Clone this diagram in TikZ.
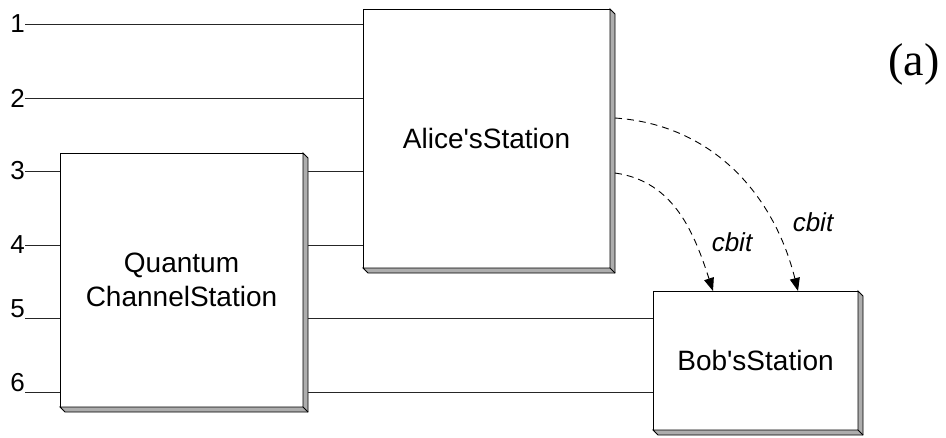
\documentclass[tikz,border=0pt]{standalone}
\usepackage{fontspec}
\setmainfont{Liberation Serif}
\setsansfont[Ligatures=TeXOff]{Liberation Sans}
\usetikzlibrary{positioning, arrows.meta, calc}

\begin{document}
\begin{tikzpicture}[
      x=1pt, y=-1pt,
      station/.style={rectangle, draw, line width=0.9pt, fill=white, outer sep=0pt,
        align=center, font=\sffamily\fontsize{28}{34}\selectfont},
      bevel/.style={draw, line width=0.9pt, fill=black!32},
      wire/.style={line width=0.9pt, draw=black!85},
      num/.style={font=\sffamily\fontsize{26}{28}\selectfont, inner sep=0pt},
      cbitedge/.style={line width=0.9pt, dash pattern=on 7pt off 5pt,
        -{Triangle[length=13pt, width=10pt]}},
      lab/.style={font=\sffamily\itshape\fontsize{26}{30}\selectfont, inner sep=0pt}
    ]
    \useasboundingbox (0,0) rectangle (946,437);

    % stations
    \node[station, minimum width=243pt, minimum height=254pt] (qc) at (181.5,280) {Quantum\\ChannelStation};
    \node[station, minimum width=247pt, minimum height=259pt] (alice) at (486.5,138.5) {Alice'sStation};
    \node[station, minimum width=205pt, minimum height=139pt] (bob) at (755.5,360.5) {Bob'sStation};

    \foreach \b in {qc, alice, bob} {
      \path[bevel] (\b.north east) -- ++(5,5) -- ($(\b.south east)+(5,5)$)
        -- ($(\b.south west)+(5,5)$) -- (\b.south west) -- (\b.south east) -- cycle;
      \draw[line width=0.9pt] (\b.south east) -- ++(5,5);
    }

    % qubit wires
    \coordinate (w1) at (25,24);
    \coordinate (w2) at (25,98);
    \coordinate (w3) at (25,171);
    \coordinate (w4) at (25,245);
    \coordinate (w5) at (25,318);
    \coordinate (w6) at (25,392);

    \node[num, anchor=east] at (w1) {1};
    \node[num, anchor=east] at (w2) {2};
    \node[num, anchor=east] at (w3) {3};
    \node[num, anchor=east] at (w4) {4};
    \node[num, anchor=south east] at (w5) {5};
    \node[num, anchor=south east] at (w6) {6};

    \draw[wire] (w1) -- (w1 -| alice.west);
    \draw[wire] (w2) -- (w2 -| alice.west);
    \foreach \w in {w3, w4} {
      \draw[wire] (\w) -- (\w -| qc.west);
      \draw[wire] ([xshift=5pt]\w -| qc.east) -- (\w -| alice.west);
    }
    \foreach \w in {w5, w6} {
      \draw[wire] (\w) -- (\w -| qc.west);
      \draw[wire] ([xshift=5pt]\w -| qc.east) -- (\w -| bob.west);
    }

    % classical bits
    \coordinate (c1) at (615,118);
    \coordinate (c2) at (615,173);
    \draw[cbitedge] (c1) to[out=-4, in=104] ([xshift=42.5pt]bob.north);
    \draw[cbitedge] (c2) to[out=-8, in=108] ([xshift=-42.5pt]bob.north);
    \node[lab] (cb1) at (813,222) {cbit};
    \node[lab] (cb2) at (732,242) {cbit};

    \node[font=\fontsize{46}{50}\selectfont, inner sep=0pt] (tag) at (914,64) {(a)};
  \end{tikzpicture}
\end{document}
